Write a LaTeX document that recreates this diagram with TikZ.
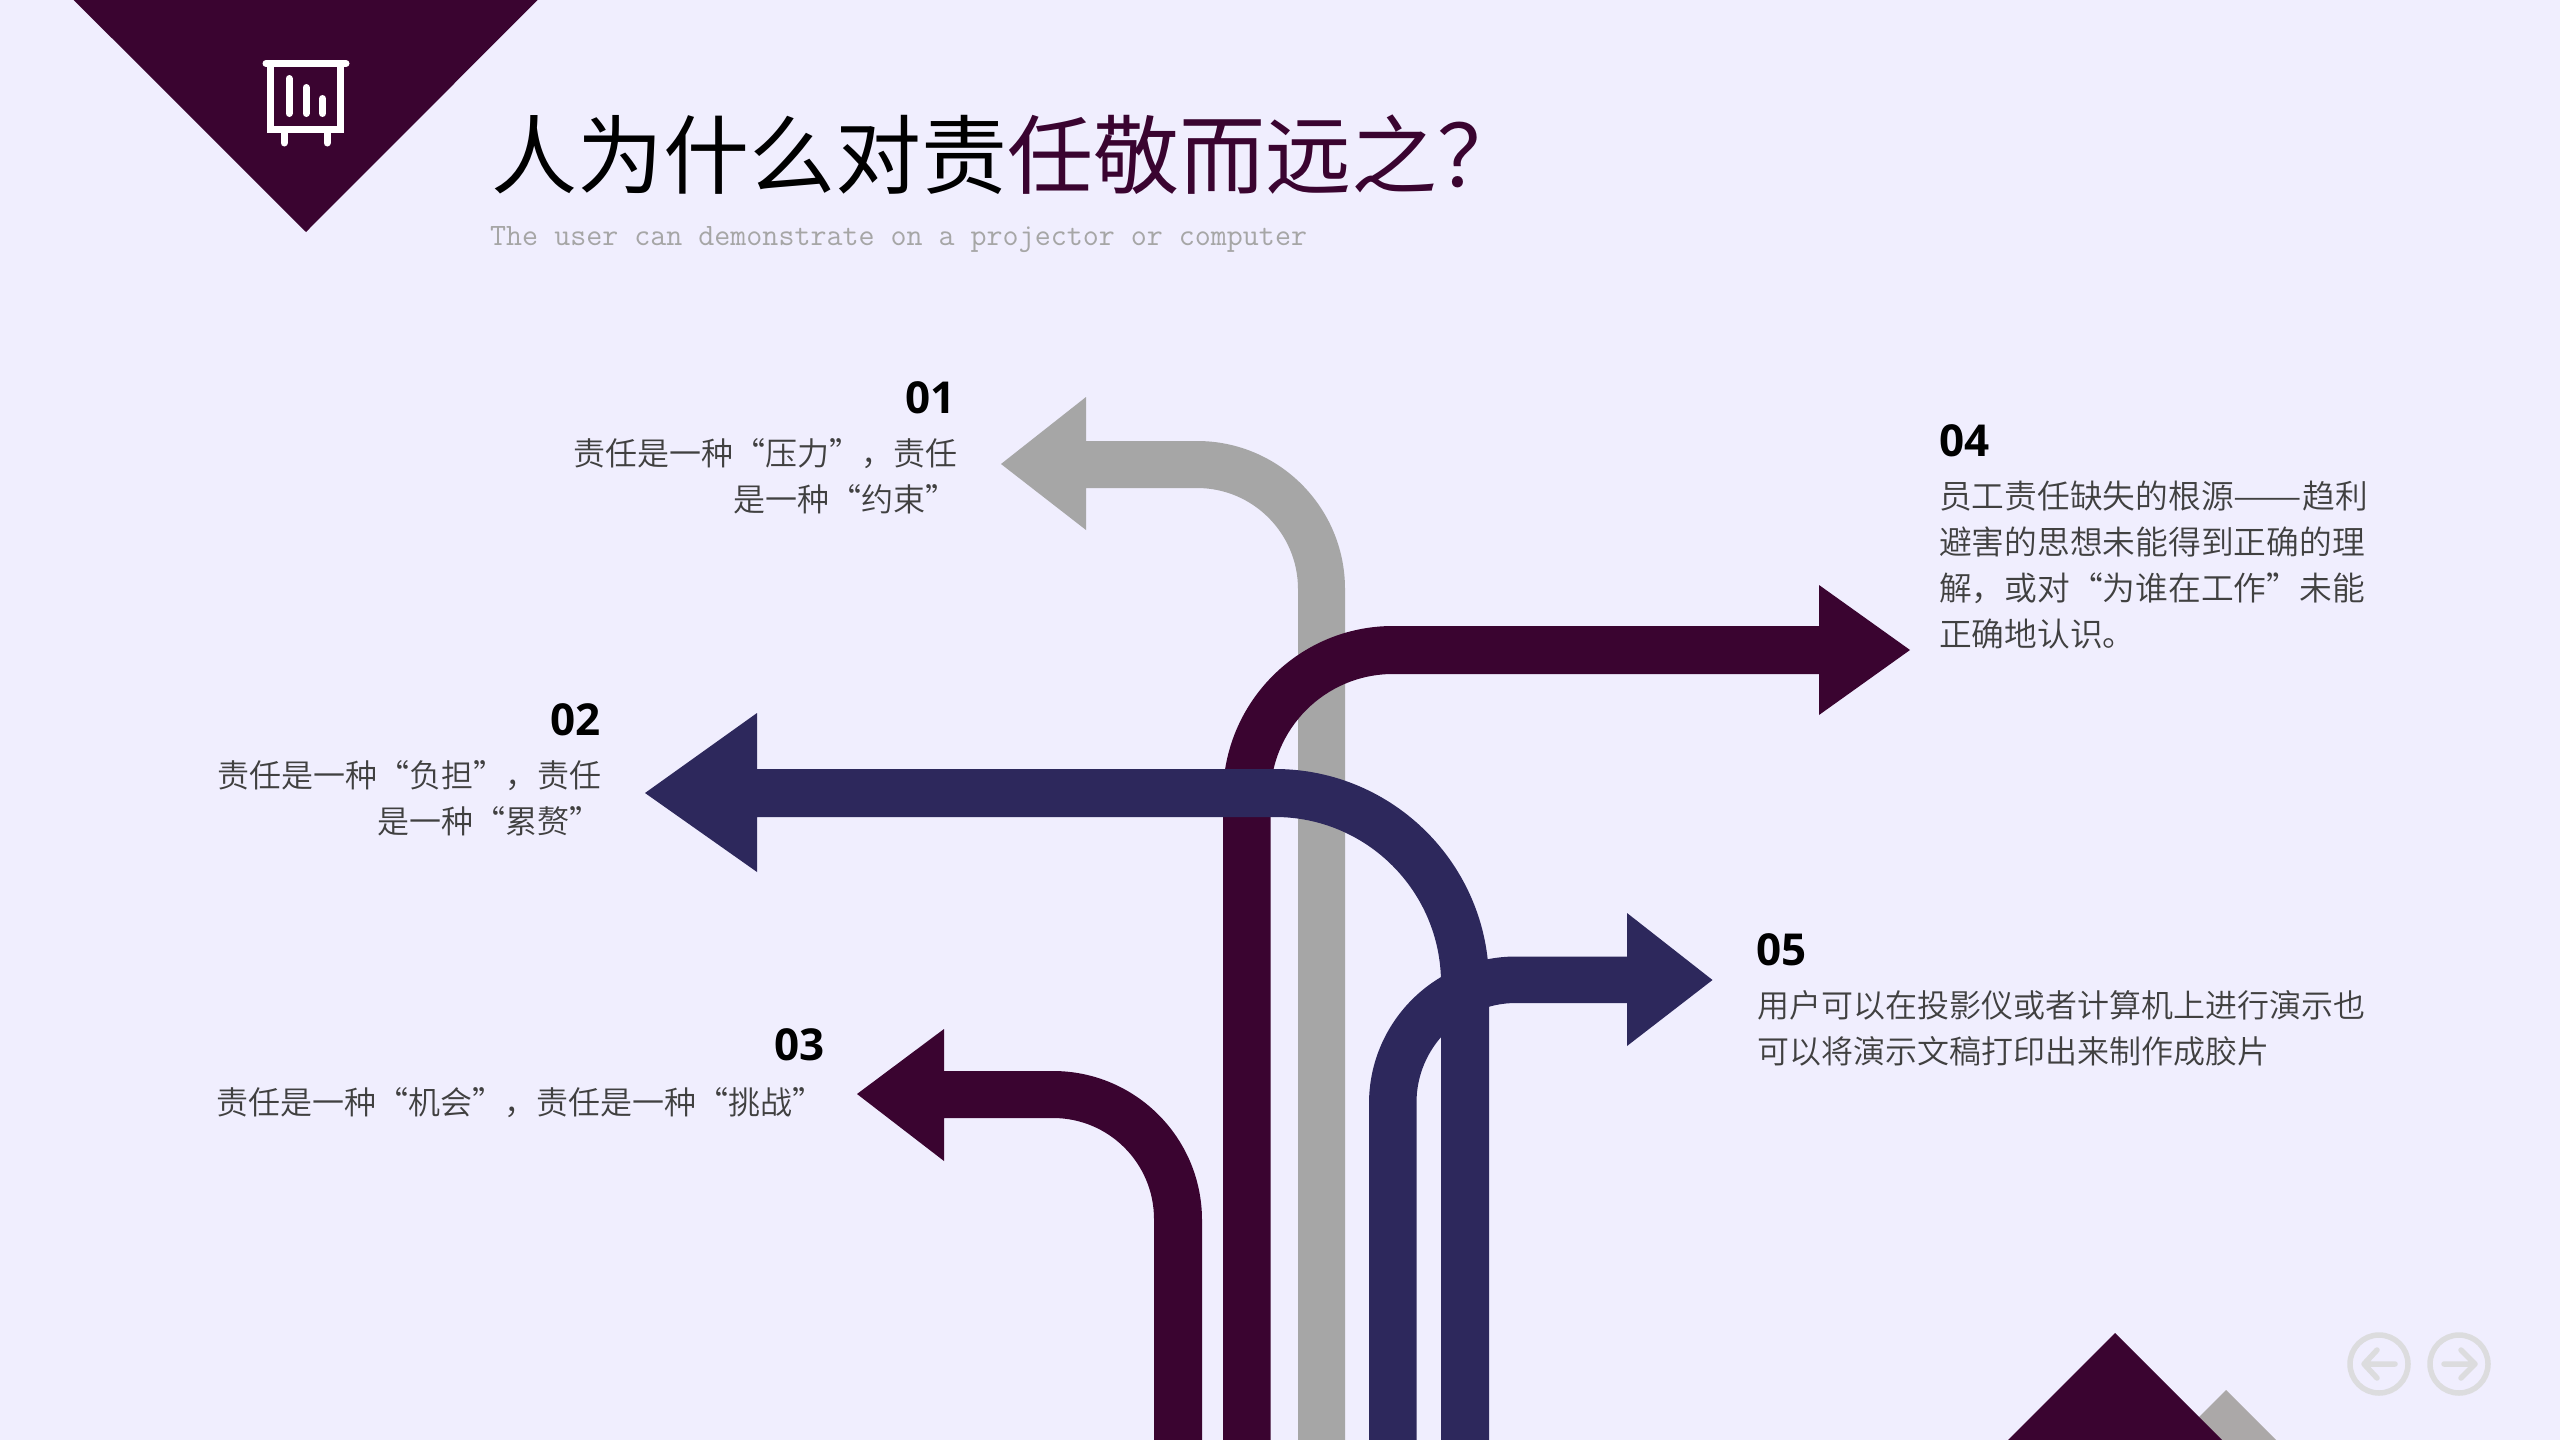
\documentclass[tikz,border=0pt]{standalone}
\usepackage{fontspec}
\setmainfont{Liberation Sans}
\newfontfamily\cjkbody{Noto Sans CJK SC DemiLight}
\newfontfamily\cjktitle{Noto Sans CJK SC}
\newfontfamily\numfont{Open Sans}[BoldFont={* Bold}]
\setmonofont{Latin Modern Mono}
\definecolor{bgc}{HTML}{F0EEFE}
\definecolor{plum}{HTML}{3A0430}
\definecolor{navy}{HTML}{2D285C}
\definecolor{ash}{HTML}{A6A6A6}
\definecolor{ashtri}{HTML}{ABA8A8}
\definecolor{bodyc}{HTML}{404040}
\definecolor{navc}{HTML}{DCDCDE}
\tikzset{
 numlabel/.style={inner sep=0pt,font=\numfont\bfseries\fontsize{44}{48}\selectfont,text=black},
 bodytext/.style={inner sep=0pt,font=\cjkbody\fontsize{32}{46}\selectfont,text=bodyc},
 bodywide/.style={inner sep=0pt,font=\cjkbody\fontsize{32.75}{46}\selectfont,text=bodyc},
 navring/.style={draw=navc,line width=5.5pt},
 navarrow/.style={draw=navc,line width=5.5pt,line cap=round,line join=round},
 iconline/.style={draw=white,line width=7pt,line cap=round},
}
\begin{document}
\begin{tikzpicture}[x=1pt,y=1pt]
\useasboundingbox (0,-1440) rectangle (2560,0);
\fill[bgc] (0,-1440) rectangle (2560,0);
% corner triangles
\fill[plum] (73.7,0) -- (537.6,0) -- (306,-232) -- cycle;
\fill[ashtri] (2226,-1390) -- (2276,-1440) -- (2176,-1440) -- cycle;
\fill[plum] (2115,-1333) -- (2222,-1440) -- (2008,-1440) -- cycle;
% icon
\draw[draw=white,line width=7pt] (270.7,-64) -- (270.7,-129.5) -- (340.7,-129.5) -- (340.7,-64);
\draw[iconline] (266,-63.5) -- (346,-63.5);
\draw[iconline] (284,-131) -- (284,-143);
\draw[iconline] (327,-131) -- (327,-143);
\draw[iconline] (289,-78.5) -- (289,-113.5);
\draw[iconline] (306,-87.5) -- (306,-113.5);
\draw[iconline] (322.5,-98.5) -- (322.5,-113.5);
% grey arrow 01
\fill[ash] (1298,-1440) -- (1298,-589) arc[start angle=0,end angle=90,radius=101]
  -- (1086,-488) -- (1086,-530) -- (1001,-464) -- (1086,-397) -- (1086,-441) -- (1197,-441)
  arc[start angle=90,end angle=0,radius=148] -- (1345,-1440) -- cycle;
% plum arrow 04
\fill[plum] (1223,-1440) -- (1223,-796) arc[start angle=180,end angle=90,radius=170]
  -- (1819,-626) -- (1819,-585) -- (1910,-650) -- (1819,-715) -- (1819,-674) -- (1393,-674)
  arc[start angle=90,end angle=180,radius=122.5] -- (1270.5,-1440) -- cycle;
% navy arrow 02
\fill[navy] (1441,-1440) -- (1441,-983) arc[start angle=0,end angle=90,radius=166]
  -- (757,-817) -- (757,-872) -- (645,-793) -- (757,-713) -- (757,-769) -- (1275,-769)
  arc[start angle=90,end angle=0,radius=214] -- (1489,-1440) -- cycle;
% navy arrow 05
\fill[navy] (1369,-1440) -- (1369,-1103.5) arc[start angle=180,end angle=90,radius=147]
  -- (1627,-956.5) -- (1627,-913) -- (1712.5,-980) -- (1627,-1046) -- (1627,-1003) -- (1516,-1003)
  arc[start angle=90,end angle=180,radius=99.5] -- (1416.5,-1440) -- cycle;
% plum arrow 03
\fill[plum] (1154,-1440) -- (1154,-1219) arc[start angle=0,end angle=90,radius=101]
  -- (944,-1118) -- (944,-1161) -- (857,-1094) -- (944,-1029) -- (944,-1071) -- (1053,-1071)
  arc[start angle=90,end angle=0,radius=149] -- (1202,-1440) -- cycle;
% title
\node[anchor=west,inner sep=0pt] (title) at (491,-155)
  {\cjktitle\fontsize{86}{92}\selectfont 人为什么对责\textcolor{plum}{任敬而远之？}};
\node[anchor=west,inner sep=0pt,text=ash] (subtitle) at (490,-240)
  {\ttfamily\fontsize{31.1}{34}\selectfont The user can demonstrate on a projector or computer};
% labels left
\node[numlabel,anchor=east] (n1) at (955.5,-398) {01};
\node[bodytext,anchor=east,align=right] (t1) at (958,-476.5) {责任是一种“压力”，责任\\是一种“约束”};
\node[numlabel,anchor=east] (n2) at (600.5,-720) {02};
\node[bodytext,anchor=east,align=right] (t2) at (601.5,-798.5) {责任是一种“负担”，责任\\是一种“累赘”};
\node[numlabel,anchor=east] (n3) at (824.5,-1045) {03};
\node[bodytext,anchor=east,align=right] (t3) at (825,-1102.5) {责任是一种“机会”，责任是一种“挑战”};
% labels right
\node[numlabel,anchor=west] (n4) at (1939,-441) {04};
\node[bodywide,anchor=west,align=left] (t4) at (1939,-565) {员工责任缺失的根源\scalebox{1.25}[1]{——}趋利\\避害的思想未能得到正确的理\\解，或对“为谁在工作”未能\\正确地认识。};
\node[numlabel,anchor=west] (n5) at (1756.5,-950) {05};
\node[bodytext,anchor=west,align=left] (t5) at (1757,-1028) {用户可以在投影仪或者计算机上进行演示也\\可以将演示文稿打印出来制作成胶片};
% nav buttons
\draw[navring] (2379,-1364) ellipse[x radius=29,y radius=29];
\draw[navarrow] (2395,-1364) -- (2364,-1364) (2377,-1350) -- (2364,-1364) -- (2377,-1378);
\draw[navring] (2459,-1364) ellipse[x radius=29,y radius=29];
\draw[navarrow] (2444,-1364) -- (2475,-1364) (2461,-1350) -- (2475,-1364) -- (2461,-1378);
\end{tikzpicture}
\end{document}
